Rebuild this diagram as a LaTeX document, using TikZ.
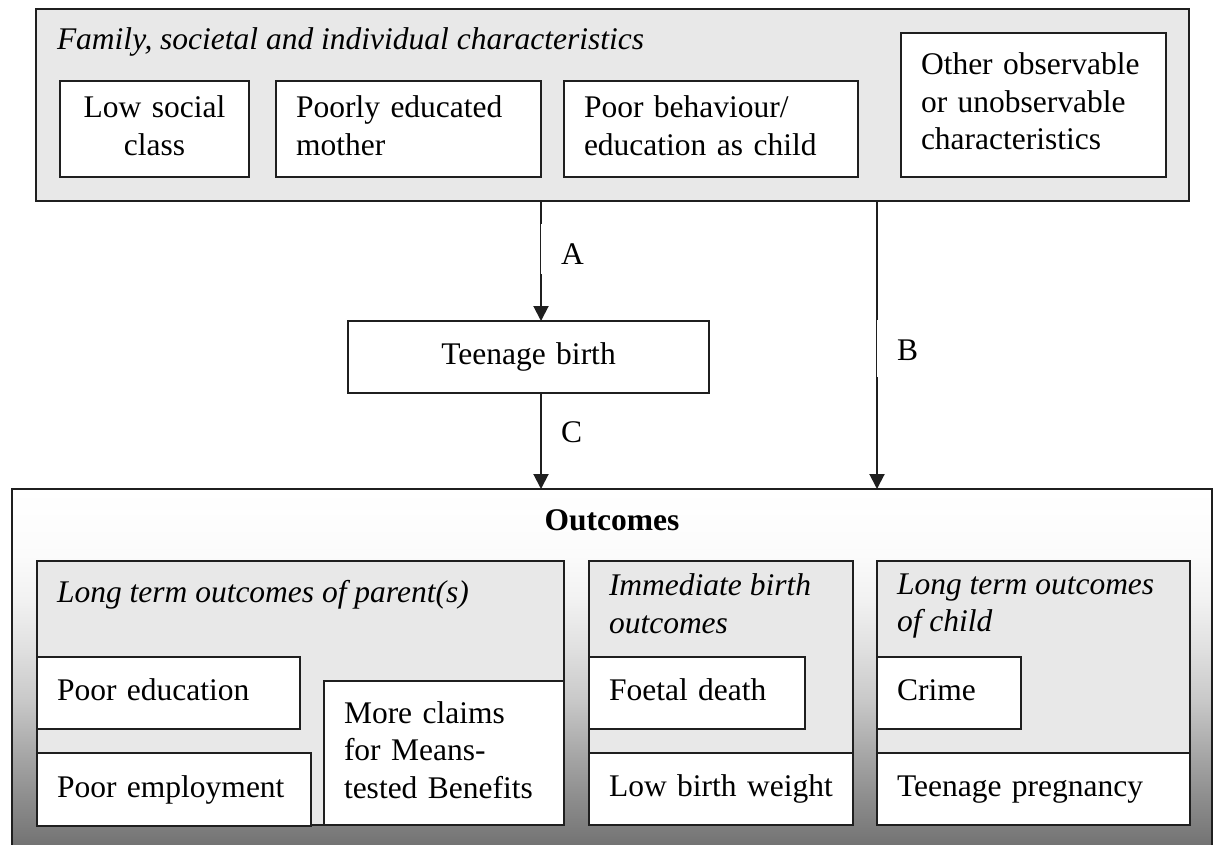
\documentclass[tikz,border=0pt]{standalone}
\usepackage{fontspec}
\setmainfont{Liberation Serif}
\usetikzlibrary{arrows.meta}
\newcommand\myfs{\fontsize{31.5}{37.5}\selectfont}
\definecolor{gA}{gray}{0.44}
\definecolor{gB}{gray}{0.55}
\definecolor{gC}{gray}{0.64}
\definecolor{gD}{gray}{0.79}
\definecolor{gE}{gray}{0.88}
\definecolor{gF}{gray}{0.95}
\definecolor{gG}{gray}{0.985}
\definecolor{panelgray}{gray}{0.91}
\definecolor{edge}{gray}{0.12}
\pgfdeclareverticalshading{outshade}{100bp}{color(0bp)=(gA); color(25bp)=(gA); color(32bp)=(gB); color(37.5bp)=(gC); color(46bp)=(gD); color(53bp)=(gE); color(60bp)=(gF); color(66bp)=(gG); color(75bp)=(white); color(100bp)=(white)}
\begin{document}
\begin{tikzpicture}[x=1pt,y=-1pt,
  every node/.style={font=\myfs, outer sep=0pt},
  panel/.style={draw=edge, line width=1.8pt, fill=panelgray, inner sep=0pt},
  outbox/.style={draw=edge, line width=1.8pt, shade, shading=outshade, inner sep=0pt},
  wbox/.style={draw=edge, line width=1.8pt, fill=white, inner xsep=20pt, inner ysep=0pt, align=left,
    execute at begin node=\strut, execute at end node=\strut},
  ttl/.style={anchor=north west, inner sep=0pt, align=left, font=\myfs\itshape, execute at begin node=\strut},
  arr/.style={draw=edge, line width=2pt, -{Triangle[length=15pt,width=15pt]}},
  lbl/.style={anchor=base west, inner xsep=20pt, inner ysep=0pt}
]
\useasboundingbox (0,0) rectangle (1213,845);

% top container
\node[panel, minimum width=1153pt, minimum height=192pt] (top) at (612.5,105) {};
\node[ttl] (toptitle) at (57,23.75) {Family, societal and individual characteristics};
\node[wbox, align=center, text width=149pt, minimum width=189pt, minimum height=96pt] (lsc) at (154.5,129) {Low social\\class};
\node[wbox, text width=225pt, minimum width=265pt, minimum height=96pt] (pem) at (408.5,129) {Poorly educated\\mother};
\node[wbox, text width=254pt, minimum width=294pt, minimum height=96pt] (pbe) at (711,129) {Poor behaviour/\\education as child};
\node[wbox, text width=225pt, minimum width=265pt, minimum height=144pt] (oth) at (1033.5,105) {Other observable\\or unobservable\\characteristics};

% teenage birth
\node[wbox, align=center, text width=321pt, minimum width=361pt, minimum height=72pt] (teen) at (528.5,357) {Teenage birth};

% outcomes
\node[outbox, minimum width=1200pt, minimum height=361pt] (out) at (612,669.5) {};
\node[font=\myfs\bfseries, anchor=base, inner sep=0pt] (outt) at (612,530) {Outcomes};

\node[panel, minimum width=527pt, minimum height=264pt] (par) at (300.5,693) {};
\node[ttl] (partitle) at (57,575.75) {Long term outcomes of parent(s)};
\node[panel, minimum width=264pt, minimum height=264pt] (imm) at (721,693) {};
\node[ttl] (immtitle) at (609,573.75) {Immediate birth\\outcomes};
\node[panel, minimum width=313pt, minimum height=264pt] (chi) at (1033.5,693) {};
\node[ttl] (chititle) at (897,573.75) {Long term outcomes\\of child};

\node[wbox, text width=223pt, minimum width=263pt, minimum height=72pt] (pedu) at (168.5,693) {Poor education};
\node[wbox, text width=234pt, minimum width=274pt, minimum height=73pt] (pemp) at (174,789.5) {Poor employment};
\node[wbox, text width=200pt, minimum width=240pt, minimum height=144pt] (claims) at (444,753) {More claims\\for Means-\\tested Benefits};
\node[wbox, text width=176pt, minimum width=216pt, minimum height=72pt] (foet) at (697,693) {Foetal death};
\node[wbox, text width=224pt, minimum width=264pt, minimum height=72pt] (lbw) at (721,789) {Low birth weight};
\node[wbox, text width=104pt, minimum width=144pt, minimum height=72pt] (crime) at (949,693) {Crime};
\node[wbox, text width=273pt, minimum width=313pt, minimum height=72pt] (tpreg) at (1033.5,789) {Teenage pregnancy};

% connectors
\draw[arr] (top.south -| pem.east) -- (teen.north -| pem.east);
\draw[arr] (teen.south -| pem.east) -- (out.north -| pem.east);
\draw[arr] (top.south -| chi.west) -- (out.north -| chi.west);

% labels
\node[lbl, fill=white, text height=41pt, text depth=9pt] (la) at (541,265) {A};
\node[lbl, fill=white, text height=40pt, text depth=17pt] (lb) at (877,360) {B};
\node[lbl] (lc) at (541,442) {C};
\end{tikzpicture}
\end{document}
